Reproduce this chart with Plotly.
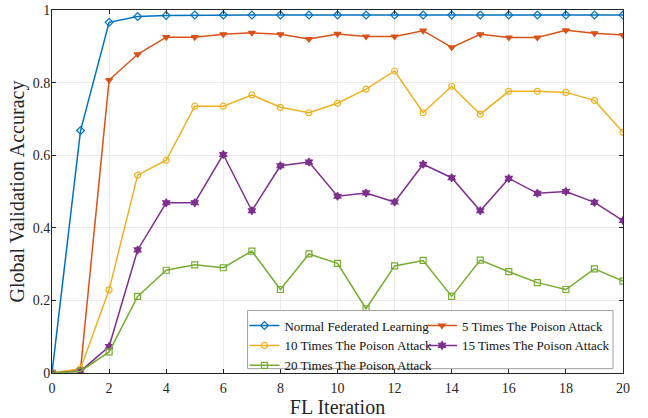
import plotly.graph_objects as go

iterations = list(range(21))

normal_fl = [0.0, 0.668, 0.966, 0.982, 0.985, 0.986, 0.986, 0.986, 0.986, 0.986, 0.986,
             0.986, 0.986, 0.986, 0.986, 0.986, 0.986, 0.986, 0.986, 0.986, 0.986]
poison_5 = [0.0, 0.010, 0.807, 0.878, 0.925, 0.925, 0.933, 0.937, 0.933, 0.920, 0.934,
            0.927, 0.927, 0.943, 0.897, 0.933, 0.924, 0.924, 0.944, 0.936, 0.931]
poison_10 = [0.0, 0.012, 0.229, 0.545, 0.586, 0.735, 0.735, 0.766, 0.732, 0.717, 0.743,
             0.782, 0.832, 0.717, 0.790, 0.713, 0.776, 0.776, 0.773, 0.751, 0.663]
poison_15 = [0.0, 0.005, 0.073, 0.339, 0.469, 0.469, 0.602, 0.447, 0.571, 0.581, 0.487,
             0.496, 0.471, 0.575, 0.538, 0.447, 0.536, 0.495, 0.500, 0.470, 0.420]
poison_20 = [0.0, 0.005, 0.058, 0.211, 0.283, 0.298, 0.290, 0.336, 0.230, 0.328, 0.302,
             0.177, 0.295, 0.310, 0.211, 0.311, 0.279, 0.249, 0.230, 0.287, 0.253]

x_ticks = list(range(0, 21, 2))
y_ticks = [0, 0.2, 0.4, 0.6, 0.8, 1]
y_tick_labels = ["0", "0.2", "0.4", "0.6", "0.8", "1"]

series = [
    ("Normal Federated Learning", normal_fl, "#0072BD", "diamond-open", "legend"),
    ("5 Times The Poison Attack", poison_5, "#D95319", "triangle-down", "legend2"),
    ("10 Times The Poison Attack", poison_10, "#EDB120", "circle-open", "legend"),
    ("15 Times The Poison Attack", poison_15, "#7E2F8E", "hexagram", "legend2"),
    ("20 Times The Poison Attack", poison_20, "#77AC30", "square-open", "legend"),
]

FONT = "Liberation Serif"
INK = "#262626"

fig = go.Figure()
for name, vals, color, symbol, leg in series:
    fig.add_trace(go.Scatter(
        x=iterations, y=vals, name=name, mode="lines+markers",
        line=dict(color=color, width=1.5),
        marker=dict(symbol=symbol, size=6, color=color, line=dict(color=color, width=1.2)),
        legend=leg,
    ))

axis_common = dict(
    showline=True, linecolor=INK, linewidth=1, mirror="ticks",
    ticks="inside", ticklen=4, tickcolor=INK,
    showgrid=True, gridcolor="#ebebeb", gridwidth=1, zeroline=False,
    tickfont=dict(family=FONT, size=14, color=INK),
    automargin=False,
)

fig.update_xaxes(
    range=[0, 20], tickvals=x_ticks, ticklabelstandoff=2,
    title=dict(text="FL Iteration", font=dict(family=FONT, size=20, color=INK), standoff=8),
    **axis_common,
)
fig.update_yaxes(
    range=[0, 1], tickvals=y_ticks, ticktext=y_tick_labels, ticklabelstandoff=-2,
    title=dict(text="Global Validation Accuracy", font=dict(family=FONT, size=20, color=INK), standoff=2),
    **axis_common,
)

legend_style = dict(
    font=dict(family=FONT, size=13, color="#111111"),
    bgcolor="rgba(255,255,255,0)", borderwidth=0,
    xanchor="left", yanchor="top", tracegroupgap=0, itemwidth=30,
)

# shared frame around both legend columns
fig.add_shape(type="rect", xref="x", yref="y", x0=6.85, x1=19.65, y0=0.012, y1=0.172,
              line=dict(color="#a0a0a0", width=1), fillcolor="white", layer="above")

fig.update_layout(
    width=648, height=418,
    margin=dict(l=52, r=25, t=10, b=45),
    paper_bgcolor="white", plot_bgcolor="white",
    font=dict(family=FONT),
    legend=dict(x=0.337, y=0.172, **legend_style),
    legend2=dict(x=0.648, y=0.172, **legend_style),
)

fig.write_html("out.html")
